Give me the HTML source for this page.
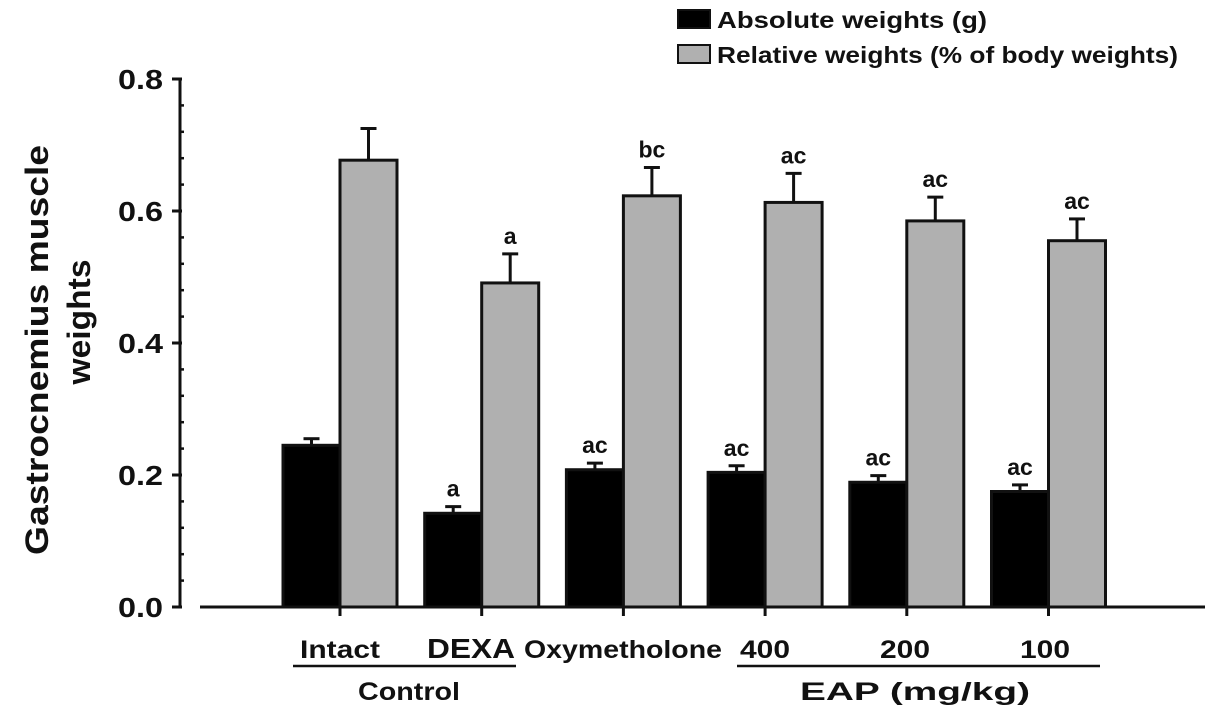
<!DOCTYPE html>
<html><head><meta charset="utf-8"><style>
body{margin:0;background:#fff}
svg text{font-family:"Liberation Sans",Arial,sans-serif;font-weight:bold;fill:#111}
</style></head><body>
<svg width="1205" height="722" xmlns="http://www.w3.org/2000/svg">
<g id="chart"></g>
</svg>
<script>
const categories=["Intact","DEXA","Oxymetholone","400","200","100"];
const absVals=[0.245,0.142,0.208,0.204,0.189,0.175];
const absErr=[0.010,0.010,0.010,0.010,0.010,0.010];
const relVals=[0.677,0.491,0.623,0.613,0.585,0.555];
const relErr=[0.048,0.044,0.043,0.044,0.036,0.033];
const absLabels=["","a","ac","ac","ac","ac"];
const relLabels=["","a","bc","ac","ac","ac"];
const yTicks=[0.0,0.2,0.4,0.6,0.8];
const NS="http://www.w3.org/2000/svg";
const g=document.getElementById('chart');
function mk(t,a,txt){const e=document.createElementNS(NS,t);for(const k in a)e.setAttribute(k,a[k]);if(txt!==undefined)e.textContent=txt;g.appendChild(e);return e;}
const y0=607,yTop=79,ymax=0.8;
function y(v){return y0-(v/ymax)*(y0-yTop);}
function xc(i){return 340+i*141.7;}
const bw=57;
const labX=[[300,80],[427,88],[524,198],[740,50],[880,50],[1020,50]];
let e=mk('line',{x1:180,y1:y(0),x2:180,y2:y(0.8),stroke:'#111','stroke-width':3});


for(let k=0;k<=20;k++){const v=k*0.04;const major=k%5===0;
 e=mk('line',{x1:major?172:180,y1:y(v),x2:major?182:184,y2:y(v),stroke:'#111','stroke-width':major?3:2.5});
 
 }
yTicks.forEach(v=>{e=mk('text',{x:118,y:y(v)+10,'font-size':28,textLength:45,lengthAdjust:'spacingAndGlyphs'},v.toFixed(1));
 
 });
e=mk('text',{x:0,y:0,transform:'translate(48,350) rotate(-90)','text-anchor':'middle','font-size':32,textLength:410,lengthAdjust:'spacingAndGlyphs'},'Gastrocnemius muscle');


e=mk('text',{x:0,y:0,transform:'translate(90,322) rotate(-90)','text-anchor':'middle','font-size':32,textLength:125,lengthAdjust:'spacingAndGlyphs'},'weights');


categories.forEach((c,i)=>{
 const x=xc(i);
 [[absVals,absErr,absLabels,'#000',x-bw,'abs'],[relVals,relErr,relLabels,'#b0b0b0',x,'rel']].forEach(([vals,errs,labs,col,bx,nm])=>{
  const v=vals[i],top=y(v),et=y(v+errs[i]),cx=bx+bw/2;
  let r=mk('line',{x1:cx,y1:top,x2:cx,y2:et,stroke:'#111','stroke-width':3});
  
  
  r=mk('line',{x1:cx-8,y1:et,x2:cx+8,y2:et,stroke:'#111','stroke-width':3});
  
  
  r=mk('rect',{x:bx,y:top,width:bw,height:y0-top,fill:col,stroke:'#111','stroke-width':3});
  
  
  if(labs[i]){r=mk('text',{x:cx,y:et-10,'text-anchor':'middle','font-size':23},labs[i]);
   
   }
 });
 let t=mk('line',{x1:x,y1:y0,x2:x,y2:y0+9,stroke:'#111','stroke-width':3});
 
 
 t=mk('text',{x:labX[i][0],y:658,'font-size':i===1?28:25,textLength:labX[i][1],lengthAdjust:'spacingAndGlyphs'},c);
 
 
});
e=mk('line',{x1:200,y1:y0,x2:1205,y2:y0,stroke:'#111','stroke-width':3});


e=mk('line',{x1:293,y1:666,x2:516,y2:666,stroke:'#111','stroke-width':2.5});


e=mk('text',{x:358,y:700,'font-size':25,textLength:102,lengthAdjust:'spacingAndGlyphs'},'Control');


e=mk('line',{x1:737,y1:666,x2:1100,y2:666,stroke:'#111','stroke-width':2.5});


e=mk('text',{x:800,y:700,'font-size':25,textLength:230,lengthAdjust:'spacingAndGlyphs'},'EAP (mg/kg)');


e=mk('rect',{x:678,y:10,width:32,height:18,fill:'#000',stroke:'#111','stroke-width':2});


e=mk('text',{x:717,y:28,'font-size':23,textLength:270,lengthAdjust:'spacingAndGlyphs'},'Absolute weights (g)');


e=mk('rect',{x:678,y:45,width:32,height:18,fill:'#b0b0b0',stroke:'#111','stroke-width':2});


e=mk('text',{x:717,y:63,'font-size':23,textLength:461,lengthAdjust:'spacingAndGlyphs'},'Relative weights (% of body weights)');


</script>
</body></html>
